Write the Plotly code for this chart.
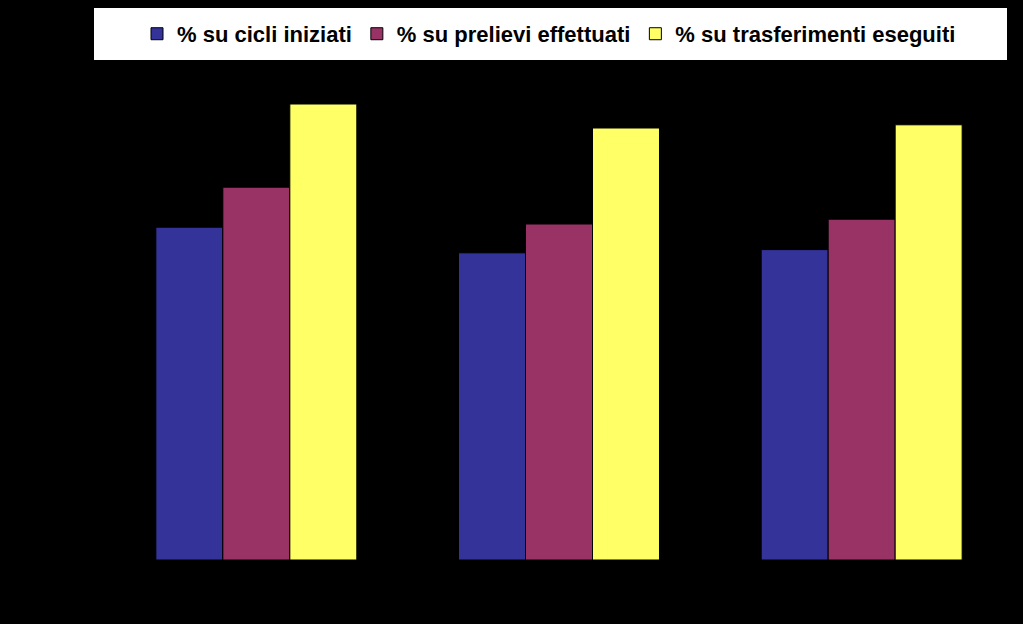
import plotly.graph_objects as go

categories = ["2005", "2006", "2007"]
series_names = ["% su cicli iniziati", "% su prelievi effettuati", "% su trasferimenti eseguiti"]
cicli_iniziati = [20.8, 19.2, 19.4]
prelievi_effettuati = [23.3, 21.0, 21.3]
trasferimenti_eseguiti = [28.5, 27.0, 27.2]
colors = ["#333399", "#993366", "#FFFF66"]

fig = go.Figure()
for i, (name, vals, col) in enumerate(zip(series_names, [cicli_iniziati, prelievi_effettuati, trasferimenti_eseguiti], colors)):
    fig.add_trace(go.Bar(x=categories, y=vals, name=name, legendgroup=f"g{i}",
                         marker=dict(color=col, line=dict(color="#000000", width=1))))

fig.update_layout(
    width=1023, height=624,
    margin=dict(l=105, r=10, t=80, b=64),
    paper_bgcolor="#000000", plot_bgcolor="#000000",
    barmode="group", bargap=0.336, bargroupgap=0,
    font=dict(family="Liberation Sans, Arial, sans-serif", color="#000000"),
    xaxis=dict(showgrid=False, zeroline=False, showline=False,
               tickfont=dict(color="#000000", size=14)),
    yaxis=dict(range=[0, 30], showgrid=False, zeroline=False, showline=False,
               showticklabels=False),
    legend=dict(orientation="h", x=0.5 - 10 / 908, xanchor="center", y=1.096, yanchor="middle",
                bgcolor="rgba(0,0,0,0)", tracegroupgap=17,
                font=dict(family="Liberation Sans, Arial, sans-serif", size=22,
                          color="#000000", weight="bold"),
                itemwidth=30),
    shapes=[dict(type="rect", xref="paper", yref="paper",
                 x0=(94 - 105) / 908, x1=(1007 - 105) / 908,
                 y0=1 + (80 - 60) / 480, y1=1 + (80 - 8) / 480,
                 fillcolor="#FFFFFF", line=dict(width=0), layer="below")],
)

fig.write_html("out.html")
